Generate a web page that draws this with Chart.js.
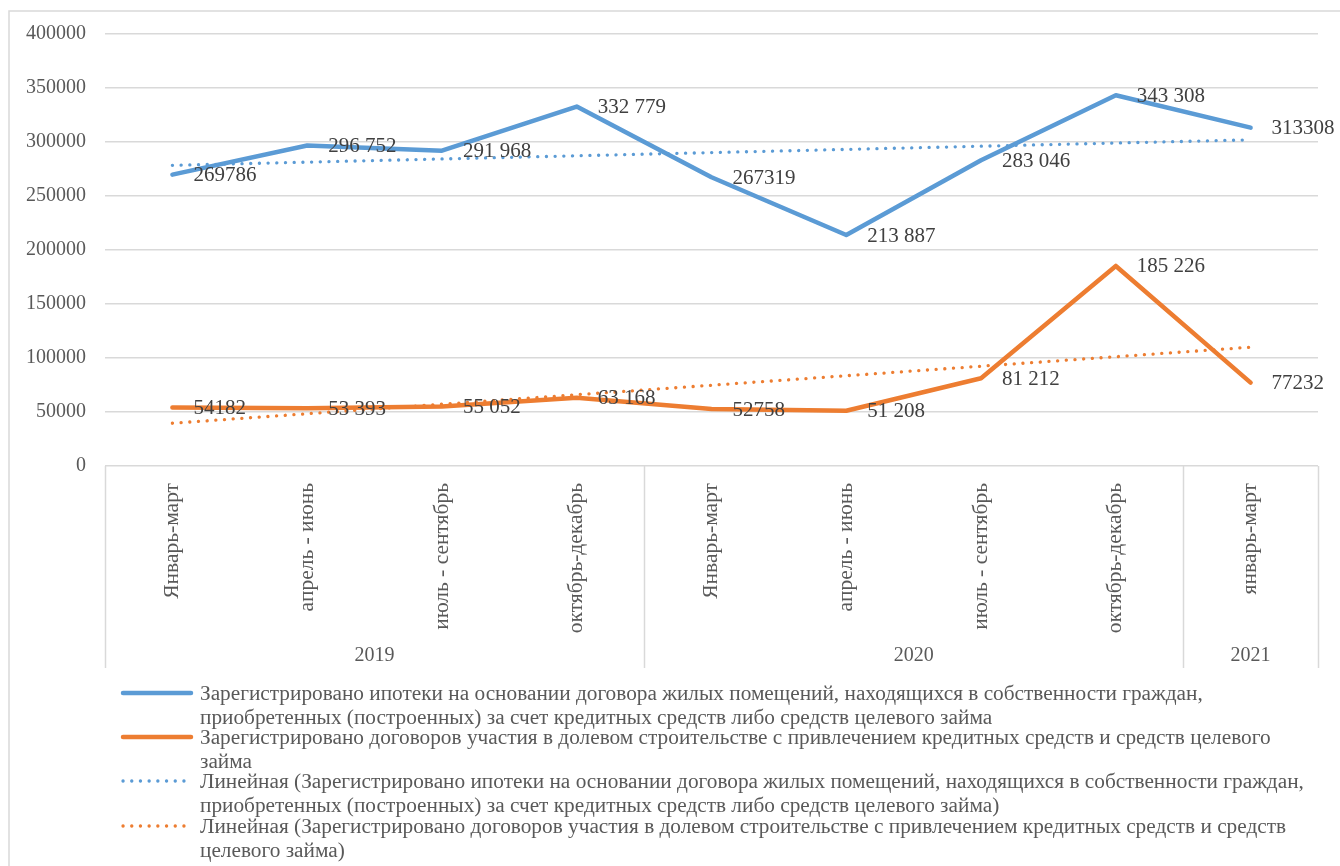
<!DOCTYPE html>
<html>
<head>
<meta charset="utf-8">
<script src="https://cdn.jsdelivr.net/npm/chart.js@4.4.1/dist/chart.umd.min.js"></script>
<style>
  html, body { margin: 0; padding: 0; background: #fff; }
</style>
</head>
<body>
<canvas id="myChart" width="1340" height="866"></canvas>
<script>
// периоды (кварталы) и годы
const periods = ['Январь-март', 'апрель - июнь', 'июль - сентябрь', 'октябрь-декабрь',
  'Январь-март', 'апрель - июнь', 'июль - сентябрь', 'октябрь-декабрь', 'январь-март'];
const years = ['2019', '2020', '2021'];
const yearSpan = [4, 4, 1];

// значения
const ipoteka = [269786, 296752, 291968, 332779, 267319, 213887, 283046, 343308, 313308];
const ddu = [54182, 53393, 55052, 63168, 52758, 51208, 81212, 185226, 77232];

// подписи как на картинке
const ipotekaLabels = ['269786', '296 752', '291 968', '332 779', '267319', '213 887', '283 046', '343 308', '313308'];
const dduLabels = ['54182', '53 393', '55 052', '63 168', '52758', '51 208', '81 212', '185 226', '77232'];

// линии тренда (концы)
const ipotekaTrend = [278400, null, null, null, null, null, null, null, 302000];
const dduTrend = [39600, null, null, null, null, null, null, null, 110000];

const yMax = 400000;
const yStep = 50000;

const legendNames = [
  ['Зарегистрировано ипотеки на основании договора жилых помещений, находящихся в собственности граждан,',
   'приобретенных (построенных) за счет кредитных средств либо средств целевого займа'],
  ['Зарегистрировано договоров участия в долевом строительстве с привлечением кредитных средств и средств целевого',
   'займа'],
  ['Линейная (Зарегистрировано ипотеки на основании договора жилых помещений, находящихся в собственности граждан,',
   'приобретенных (построенных) за счет кредитных средств либо средств целевого займа)'],
  ['Линейная (Зарегистрировано договоров участия в долевом строительстве с привлечением кредитных средств и средств',
   'целевого займа)']
];

const BLUE = '#5B9BD5';
const ORANGE = '#ED7D31';
const SERIF = '"Liberation Serif", "Times New Roman", serif';

// рамка, разделители годов и подписи годов
const frame = {
  id: 'frame',
  beforeDraw(chart) {
    const ctx = chart.ctx;
    const x = chart.scales.x;
    const a = chart.chartArea;
    const step = (a.right - a.left) / periods.length;
    ctx.save();
    ctx.strokeStyle = '#d9d9d9';
    ctx.lineWidth = 1.5;
    ctx.strokeRect(9, 11, 1400, 1000);

    const edges = [0];
    let acc = 0;
    yearSpan.forEach(n => { acc += n; edges.push(acc); });
    edges.forEach(e => {
      const px = Math.round(a.left + e * step) + 0.5;
      ctx.beginPath();
      ctx.moveTo(px, a.bottom);
      ctx.lineTo(px, x.bottom);
      ctx.stroke();
    });

    ctx.font = '20px ' + SERIF;
    ctx.fillStyle = '#595959';
    ctx.textAlign = 'center';
    ctx.textBaseline = 'middle';
    years.forEach((y, k) => {
      const cx = a.left + (edges[k] + edges[k + 1]) / 2 * step;
      ctx.fillText(y, cx, x.bottom - 12);
    });
    ctx.restore();
  }
};

// подписи значений справа от точек
const valueLabels = {
  id: 'valueLabels',
  afterDatasetsDraw(chart) {
    const ctx = chart.ctx;
    ctx.save();
    ctx.font = '21px ' + SERIF;
    ctx.fillStyle = '#404040';
    ctx.textAlign = 'left';
    ctx.textBaseline = 'middle';
    [[0, ipotekaLabels], [1, dduLabels]].forEach(([di, texts]) => {
      chart.getDatasetMeta(di).data.forEach((pt, i) => {
        ctx.fillText(texts[i], pt.x + 21, pt.y + 1);
      });
    });
    ctx.restore();
  }
};

// легенда внизу
const bottomLegend = {
  id: 'bottomLegend',
  afterDraw(chart) {
    const ctx = chart.ctx;
    const rowsY = [694, 738, 782, 827];
    const styles = [
      { color: BLUE, dash: [], w: 4.5 },
      { color: ORANGE, dash: [], w: 4.5 },
      { color: BLUE, dash: [0.1, 8.6], w: 3.3 },
      { color: ORANGE, dash: [0.1, 8.6], w: 3.3 }
    ];
    ctx.save();
    ctx.font = '21.3px ' + SERIF;
    ctx.textBaseline = 'middle';
    ctx.textAlign = 'left';
    legendNames.forEach((lines, i) => {
      const s = styles[i];
      ctx.strokeStyle = s.color;
      ctx.lineWidth = s.w;
      ctx.lineCap = 'round';
      ctx.setLineDash(s.dash);
      ctx.beginPath();
      ctx.moveTo(123, rowsY[i] - 1);
      ctx.lineTo(191, rowsY[i] - 1);
      ctx.stroke();
      ctx.setLineDash([]);
      ctx.fillStyle = '#595959';
      lines.forEach((t, j) => ctx.fillText(t, 200, rowsY[i] + j * 24));
    });
    ctx.restore();
  }
};

const ctx = document.getElementById('myChart').getContext('2d');

const chart = new Chart(ctx, {
  type: 'line',
  data: {
    labels: periods,
    datasets: [
      {
        label: legendNames[0].join(' '),
        data: ipoteka,
        borderColor: BLUE,
        borderWidth: 4.5,
        borderCapStyle: 'round',
        borderJoinStyle: 'round',
        pointRadius: 0,
        tension: 0
      },
      {
        label: legendNames[1].join(' '),
        data: ddu,
        borderColor: ORANGE,
        borderWidth: 4.5,
        borderCapStyle: 'round',
        borderJoinStyle: 'round',
        pointRadius: 0,
        tension: 0
      },
      {
        label: legendNames[2].join(' '),
        data: ipotekaTrend,
        borderColor: BLUE,
        borderWidth: 3.3,
        borderCapStyle: 'round',
        borderDash: [0.1, 8.6],
        pointRadius: 0,
        spanGaps: true
      },
      {
        label: legendNames[3].join(' '),
        data: dduTrend,
        borderColor: ORANGE,
        borderWidth: 3.3,
        borderCapStyle: 'round',
        borderDash: [0.1, 8.6],
        pointRadius: 0,
        spanGaps: true
      }
    ]
  },
  options: {
    responsive: false,
    devicePixelRatio: 1,
    animation: false,
    layout: { padding: { left: 0, top: 34, right: 22, bottom: 198 } },
    plugins: {
      legend: { display: false },
      tooltip: { enabled: false }
    },
    scales: {
      x: {
        offset: true,
        grid: { display: false, drawTicks: false },
        border: { display: false },
        afterFit(scale) { scale.height = 202; },
        ticks: {
          autoSkip: false,
          maxRotation: 90,
          minRotation: 90,
          padding: 17,
          color: '#595959',
          font: { family: SERIF, size: 21.5 }
        }
      },
      y: {
        min: 0,
        max: yMax,
        afterFit(scale) { scale.width = 105; },
        grid: { color: '#d9d9d9', lineWidth: 1.5, drawTicks: false },
        border: { display: false },
        ticks: {
          stepSize: yStep,
          padding: 19,
          color: '#595959',
          font: { family: SERIF, size: 20 },
          callback: v => String(v)
        }
      }
    }
  },
  plugins: [frame, valueLabels, bottomLegend]
});
</script>
</body>
</html>
